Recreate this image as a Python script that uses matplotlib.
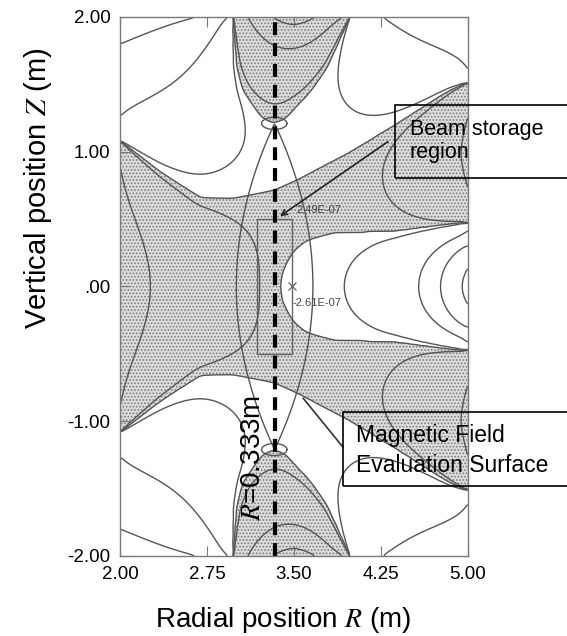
import numpy as np
import matplotlib.pyplot as plt
from matplotlib.patches import Rectangle

plt.rcParams['font.family'] = ['Liberation Sans', 'DejaVu Sans']
plt.rcParams['mathtext.fontset'] = 'stix'
plt.rcParams['hatch.color'] = '#7c7c7c'
plt.rcParams['hatch.linewidth'] = 0.8

# boundaries of the dotted (negative) regions (upper half, mirrored)
cent_r = [2.0, 2.35, 2.7, 3.0, 3.33, 3.55, 3.98, 4.4, 4.84, 5.0]
cent_z = [1.08, 0.85, 0.65, 0.66, 0.72, 0.81, 1.0, 1.22, 1.46, 1.52]
tong_r = [3.37, 3.39, 3.43, 3.5, 3.6, 3.84, 4.41, 5.0]
tong_z = [0.0, 0.1, 0.18, 0.27, 0.33, 0.38, 0.40, 0.47]
fing_z = [1.21, 1.25, 1.31, 1.46, 1.63, 2.0]
fing_l = [3.32, 3.22, 3.17, 3.05, 3.0, 2.97]
fing_r = [3.32, 3.42, 3.47, 3.64, 3.78, 3.98]

# field size along the plot edges (upper half, mirrored)
left_z = [0.0, 0.95, 1.07, 1.09, 1.26, 1.8, 2.0]
left_v = [-1.6, -1.0, -0.5, 0.6, 1.0, 2.0, 2.4]
top_r = [2.0, 2.71, 2.95, 2.965, 2.975, 3.1, 3.3, 3.5, 3.7, 3.95, 3.975, 3.985, 4.26, 5.0]
top_v = [2.4, 2.0, 1.0, 0.8, -0.6, -1.0, -2.0, -2.5, -2.0, -1.0, -0.6, 0.7, 1.0, 1.8]
right_z = [0.0, 0.15, 0.3, 0.42, 0.46, 0.48, 0.7, 1.0, 1.3, 1.5, 1.52, 1.6, 2.0]
right_v = [5.0, 4.0, 2.0, 1.0, 0.6, -0.6, -1.0, -1.2, -1.0, -0.6, 0.7, 1.0, 1.8]
levels = [-2.0, -1.0, -0.08, 0.0, 0.08, 1.0, 2.0, 4.0]

# evaluation surface, small loops at the cusp tips, storage box
r_orbit = 3.333
surf_halfwidth, surf_halfheight = 0.33, 1.21
tip_r, tip_z, tip_w, tip_h = 3.33, 1.21, 0.11, 0.045
box_r, box_z = [3.18, 3.48], [-0.5, 0.5]
min_pt, min_lab = (3.48, 0.0), '-2.61E-07'
max_lab = '2.49E-07'


def relax(F, fixed, n_iter=1500, omega=1.9):
    jj, ii = np.indices(F.shape)
    free = ~fixed
    red = ((ii + jj) % 2 == 0) & free
    black = ((ii + jj) % 2 == 1) & free
    avg = np.zeros_like(F)
    for _ in range(n_iter):
        for m in (red, black):
            avg[1:-1, 1:-1] = 0.25 * (F[:-2, 1:-1] + F[2:, 1:-1] + F[1:-1, :-2] + F[1:-1, 2:])
            F = np.where(m, F + omega * (avg - F), F)
    return F


def smooth(A, n=3):
    k = np.array([1, 4, 6, 4, 1]) / 16.0
    ny, nx = A.shape
    for _ in range(n):
        P = np.pad(A, ((2, 2), (0, 0)), mode='edge')
        A = sum(k[i] * P[i:i + ny, :] for i in range(5))
        P = np.pad(A, ((0, 0), (2, 2)), mode='edge')
        A = sum(k[i] * P[:, i:i + nx] for i in range(5))
    return A


r = np.linspace(2, 5, 301)
z = np.linspace(-2, 2, 401)
R, Z = np.meshgrid(r, z)
AZ = np.abs(Z)

in_c = AZ < np.interp(R, cent_r, cent_z)
in_t = (R >= tong_r[0]) & (AZ < np.interp(R, tong_r, tong_z))
in_f = (AZ >= fing_z[0]) & (R > np.interp(AZ, fing_z, fing_l)) & (R < np.interp(AZ, fing_z, fing_r))
dotted = (in_c & ~in_t) | in_f

white = ~dotted
touch = np.zeros_like(dotted)
touch[1:, :] |= white[:-1, :]
touch[:-1, :] |= white[1:, :]
touch[:, 1:] |= white[:, :-1]
touch[:, :-1] |= white[:, 1:]
iface = dotted & touch

F = np.where(dotted, -0.5, 0.5)
F[iface] = 0.0
F[:, 0] = np.interp(np.abs(z), left_z, left_v)
F[:, -1] = np.interp(np.abs(z), right_z, right_v)
F[0, :] = np.interp(r, top_r, top_v)
F[-1, :] = np.interp(r, top_r, top_v)
fixed = iface.copy()
fixed[:, 0] = fixed[:, -1] = fixed[0, :] = fixed[-1, :] = True
F = smooth(relax(F, fixed))

surf = np.abs(R - r_orbit) / surf_halfwidth + (Z / surf_halfheight) ** 2
tips = ((R - tip_r) / tip_w) ** 2 + ((AZ - tip_z) / tip_h) ** 2

fig = plt.figure(figsize=(5.67, 6.36), dpi=100)
ax = fig.add_axes([0.2116, 0.1258, 0.6138, 0.8475])

lc = '#555555'
lo = F.min() - 1
ax.contourf(R, Z, F, levels=[lo, 0], colors=['#dcdcdc'])
ax.contourf(R, Z, F, levels=[lo, 0], colors='none', hatches=['.....'])
ax.contour(R, Z, F, levels=levels, colors=lc, linewidths=1.0, linestyles='solid')
ax.contour(R, Z, surf, levels=[1.0], colors=lc, linewidths=1.0, linestyles='solid')
ax.contour(R, Z, tips, levels=[1.0], colors=lc, linewidths=1.0, linestyles='solid')

ax.axvline(r_orbit, color='black', lw=3, dashes=(3.1, 1.9))
ax.add_patch(Rectangle((box_r[0], box_z[0]), box_r[1] - box_r[0], box_z[1] - box_z[0],
                       fill=False, ec='#666666', lw=1))
ax.plot(*min_pt, marker='x', ms=6, color='#666666', mew=0.9)
ax.text(3.49, -0.12, min_lab, fontsize=8, color='#444444', va='center')
ax.text(3.52, 0.57, max_lab, fontsize=8, color='#444444', va='center')
ax.annotate('', xy=(3.36, 0.51), xytext=(4.33, 1.087),
            arrowprops=dict(arrowstyle='->', color='#222222', lw=1.2))
ax.plot([3.92, 3.58], [-1.19, -0.83], color='#333333', lw=1.2)
ax.text(3.15, -1.27, r'$R$=0.333m', rotation=90, fontsize=20, ha='center', va='center')

ax.set_xlim(2, 5)
ax.set_ylim(-2, 2)
ax.set_xticks([2.0, 2.75, 3.5, 4.25, 5.0])
ax.set_xticklabels(['2.00', '2.75', '3.50', '4.25', '5.00'])
ax.set_yticks([-2.0, -1.0, 0.0, 1.0, 2.0])
ax.set_yticklabels(['-2.00', '-1.00', '.00', '1.00', '2.00'])
ax.tick_params(direction='in', length=7, top=True, right=False, width=0.8,
               color='#7a7a7a', labelsize=13.5, pad=7)
for sp in ax.spines.values():
    sp.set_color('#7a7a7a')
    sp.set_linewidth(1)

ax.set_ylabel(r'Vertical position $Z$ (m)', fontsize=21)
ax.yaxis.set_label_coords(-0.19, 0.683)
ax.set_xlabel(r'Radial position $R$ (m)', fontsize=20)
ax.xaxis.set_label_coords(0.468, -0.091)

fig.add_artist(Rectangle((0.6966, 0.7201), 0.4, 0.1148, transform=fig.transFigure,
                         fill=False, ec='black', lw=1.2))
fig.text(0.7231, 0.7877, 'Beam storage', fontsize=15.5, va='baseline')
fig.text(0.7231, 0.7516, 'region', fontsize=15.5, va='baseline')
fig.add_artist(Rectangle((0.605, 0.2358), 0.45, 0.1164, transform=fig.transFigure,
                         fill=False, ec='black', lw=1.2))
fig.text(0.6279, 0.305, 'Magnetic Field', fontsize=16.5, va='baseline')
fig.text(0.6279, 0.2579, 'Evaluation Surface', fontsize=16.5, va='baseline')

fig.savefig('out.png', dpi=100)
